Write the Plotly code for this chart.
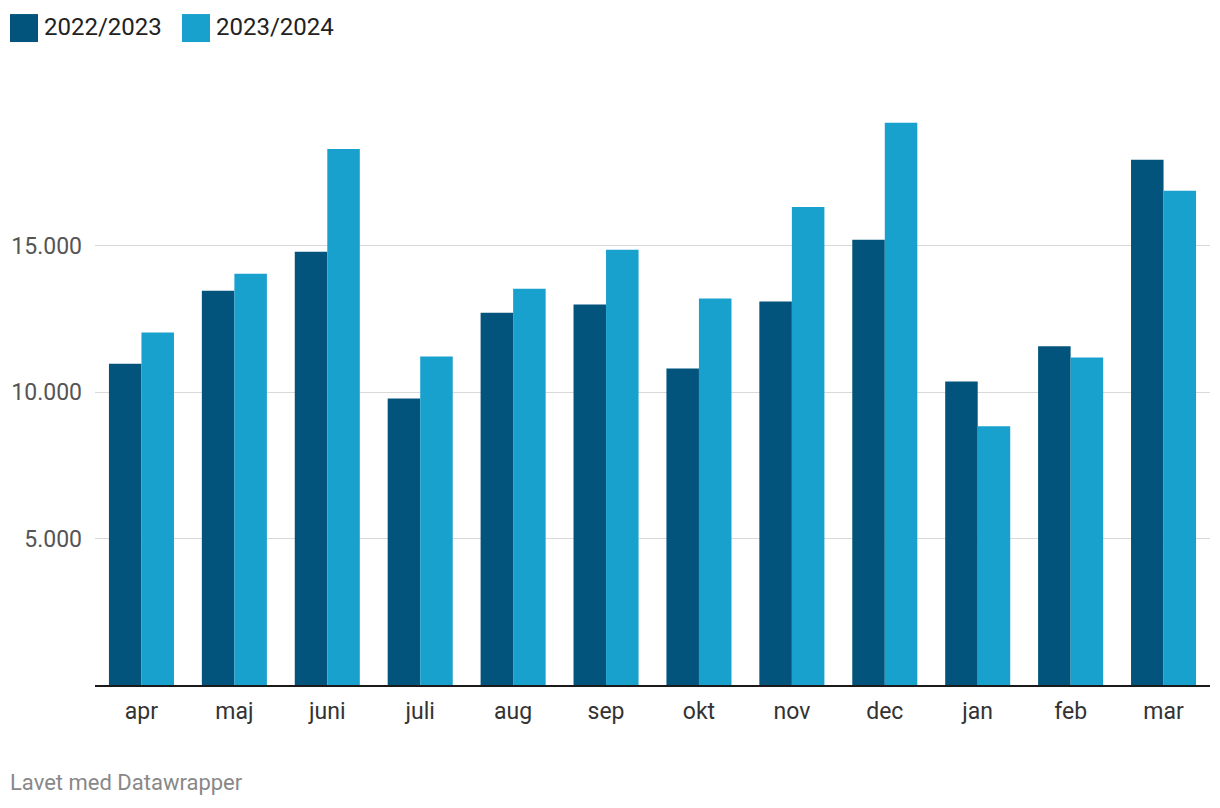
import plotly.graph_objects as go

months = ["apr", "maj", "juni", "juli", "aug", "sep", "okt", "nov", "dec", "jan", "feb", "mar"]
series_names = ["2022/2023", "2023/2024"]
values_2022 = [10970, 13460, 14790, 9780, 12710, 12990, 10800, 13090, 15200, 10360, 11560, 17930]
values_2023 = [12030, 14040, 18300, 11210, 13530, 14860, 13190, 16320, 19190, 8830, 11180, 16870]
colors = ["#03547c", "#19a1cd"]
y_ticks = [5000, 10000, 15000]

OFF = 8  # page body margin
W, H = 1220 - OFF, 808 - OFF
# plot area in page coordinates: x 95..1210, y 80..685.5
L, R, T, B = 95 - OFF, 1220 - 1210, 80 - OFF, 808 - 685.5
pw, ph = W - L - R, H - T - B

def px(x):
    return (x - OFF - L) / pw

def py(y):
    return (H - B - (y - OFF)) / ph

fig = go.Figure()
for name, vals, col in zip(series_names, [values_2022, values_2023], colors):
    fig.add_trace(go.Bar(x=months, y=vals, name=name, marker=dict(color=col, line=dict(width=0)),
                         showlegend=False))

fig.update_layout(
    width=W, height=H,
    margin=dict(l=L, r=R, t=T, b=B, autoexpand=False),
    paper_bgcolor="white", plot_bgcolor="white",
    barmode="group", bargap=0.3, bargroupgap=0,
    separators=",.",
    font=dict(family="Roboto", size=22, color="#333"),
    xaxis=dict(showgrid=False, ticks="", showline=True, linecolor="#1a1a1a", linewidth=2,
               automargin=False,
               tickfont=dict(size=23, color="#333"), ticklabelstandoff=4, range=[-0.5, 11.5]),
    yaxis=dict(range=[0, ph / (439.8 / 15000)], tickvals=y_ticks, tickformat=",d",
               automargin=False,
               showgrid=True, gridcolor="#d9d9d9", gridwidth=1, zeroline=False, showline=False,
               ticks="", tickfont=dict(size=23, color="#555"), ticklabelstandoff=12),
)

# legend (custom squares + labels)
leg_x = [10, 182]
for name, col, x0 in zip(series_names, colors, leg_x):
    fig.add_shape(type="rect", xref="paper", yref="paper",
                  x0=px(x0), x1=px(x0 + 28), y0=py(14), y1=py(42),
                  fillcolor=col, line=dict(width=0))
    fig.add_annotation(xref="paper", yref="paper", x=px(x0 + 32), y=py(27),
                       text=name, showarrow=False, xanchor="left", yanchor="middle",
                       font=dict(size=24, color="#222"))

fig.add_annotation(xref="paper", yref="paper", x=px(8), y=py(783),
                   text="Lavet med Datawrapper", showarrow=False, xanchor="left", yanchor="middle",
                   font=dict(size=22, color="#888"))

fig.write_html("out.html")
